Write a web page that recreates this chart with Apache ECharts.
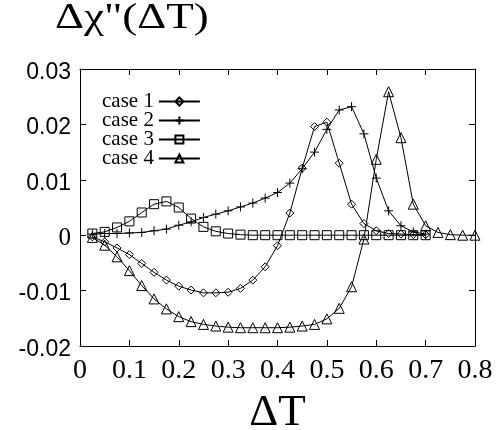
<!DOCTYPE html>
<html>
<head>
<meta charset="utf-8">
<script src="https://cdn.jsdelivr.net/npm/echarts@6/dist/echarts.min.js"></script>
<style>html,body{margin:0;padding:0;background:#fff;}#c{width:501px;height:430px;}</style>
</head>
<body>
<div id="c"></div>
<script>
var xShort = [0.025,0.05,0.075,0.1,0.125,0.15,0.175,0.2,0.225,0.25,0.275,0.3,0.325,0.35,0.375,0.4,0.425,0.45,0.475,0.5,0.525,0.55,0.575,0.6,0.625,0.65,0.675,0.7];
var xLong = [0.025,0.05,0.075,0.1,0.125,0.15,0.175,0.2,0.225,0.25,0.275,0.3,0.325,0.35,0.375,0.4,0.425,0.45,0.475,0.5,0.525,0.55,0.575,0.6,0.625,0.65,0.675,0.7,0.725,0.75,0.775,0.8];
var case1 = [-0.0003,-0.0012,-0.0023,-0.0035,-0.0051,-0.0067,-0.0081,-0.0092,-0.0099,-0.0104,-0.0104,-0.0103,-0.0096,-0.0081,-0.0057,-0.0019,0.0040,0.0121,0.0196,0.0204,0.0130,0.0056,0.0021,0.0008,0.0003,0.0002,0.0001,0.0001];
var case2 = [0.0002,0.0003,0.0003,0.0004,0.0005,0.0008,0.0011,0.0018,0.0024,0.0032,0.0038,0.0044,0.0051,0.0058,0.0067,0.0077,0.0094,0.0120,0.0150,0.0191,0.0226,0.0232,0.0183,0.0103,0.0044,0.0017,0.0006,0.0002];
var case3 = [0.0003,0.0006,0.0014,0.0025,0.0041,0.0056,0.0061,0.0050,0.0030,0.0015,0.0007,0.0003,0.0001,0,0,0,0,0,0,0,0,0,0,0,0,0,0,0];
var case4 = [-0.0004,-0.0018,-0.0039,-0.0064,-0.0091,-0.0115,-0.0133,-0.0147,-0.0156,-0.0161,-0.0164,-0.0166,-0.0167,-0.0167,-0.0167,-0.0167,-0.0166,-0.0164,-0.0161,-0.0151,-0.0132,-0.0093,-0.0007,0.0137,0.0259,0.0176,0.0056,0.0017,0.0005,0.0001,0,0];
var seriesNames = ['case 1','case 2','case 3','case 4'];
var titleText = 'Δχ"(ΔT)';
var xName = 'ΔT';

function pairs(xs, ys){ return xs.map(function(x,i){ return [x, ys[i]]; }); }

var serif = '"Liberation Serif", "Times New Roman", serif';
var plusPath = 'path://M5,0L5,10M0,5L10,5';

function mk(name, xs, ys, symbol, size){
  return {
    name: name, type: 'line', data: pairs(xs, ys),
    symbol: symbol, symbolSize: size, showAllSymbol: true,
    lineStyle: {color: '#000', width: 1},
    itemStyle: {color: 'rgba(255,255,255,0)', borderColor: '#000', borderWidth: 1},
    emphasis: {disabled: true}, animation: false
  };
}

var chart = echarts.init(document.getElementById('c'));
var axisCommon = {
  min: 0, max: 0.8, interval: 0.1,
  axisLine: {show: true, onZero: false, lineStyle: {color: '#000', width: 1}},
  axisTick: {show: true, inside: true, length: 6, lineStyle: {color: '#000'}},
  splitLine: {show: false}
};
var yCommon = {
  min: -0.02, max: 0.03, interval: 0.01,
  axisLine: {show: true, onZero: false, lineStyle: {color: '#000', width: 1}},
  axisTick: {show: true, inside: true, length: 6, lineStyle: {color: '#000'}},
  splitLine: {show: false}
};
chart.setOption({
  animation: false,
  backgroundColor: '#fff',
  grid: {left: 80, right: 26, top: 69, bottom: 84, outerBoundsMode: 'none', containLabel: false},
  graphic: [{
    type: 'text', x: 55, y: 1, scaleX: 1.25,
    style: {text: titleText, font: 'normal normal 36px "Liberation Serif"', fill: '#000', verticalAlign: 'top'}
  }],
  legend: {
    orient: 'vertical', left: 97, top: 86, align: 'right',
    itemWidth: 41, itemHeight: 10, itemGap: -2,
    textStyle: {fontFamily: serif, fontSize: 21, color: '#000'},
    data: seriesNames
  },
  xAxis: [
    Object.assign({}, axisCommon, {
      type: 'value', position: 'bottom',
      name: xName, nameLocation: 'middle', nameGap: 45,
      nameTextStyle: {fontFamily: serif, fontSize: 45, color: '#000'},
      axisLabel: {show: true, margin: 11, color: '#000', fontFamily: serif, fontSize: 28,
        formatter: function(v){ return Math.abs(v) < 1e-9 ? '0' : v.toFixed(1); }}
    }),
    Object.assign({}, axisCommon, {type: 'value', position: 'top', axisLabel: {show: false}})
  ],
  yAxis: [
    Object.assign({}, yCommon, {
      type: 'value', position: 'left',
      axisLabel: {show: true, margin: 9, color: '#000', fontFamily: '"Liberation Sans", Arial, sans-serif', fontSize: 23,
        padding: [7, 0, 0, 0],
        formatter: function(v){ return Math.abs(v) < 1e-9 ? '{z|0}' : v.toFixed(2); },
        rich: {z: {fontFamily: serif, fontSize: 25, color: '#000'}}}
    }),
    Object.assign({}, yCommon, {type: 'value', position: 'right', axisLabel: {show: false}})
  ],
  series: [
    mk('case 1', xShort, case1, 'diamond', 8),
    mk('case 2', xShort, case2, plusPath, 9),
    mk('case 3', xShort, case3, 'rect', 9),
    mk('case 4', xLong, case4, 'triangle', 10)
  ]
});
</script>
</body>
</html>
